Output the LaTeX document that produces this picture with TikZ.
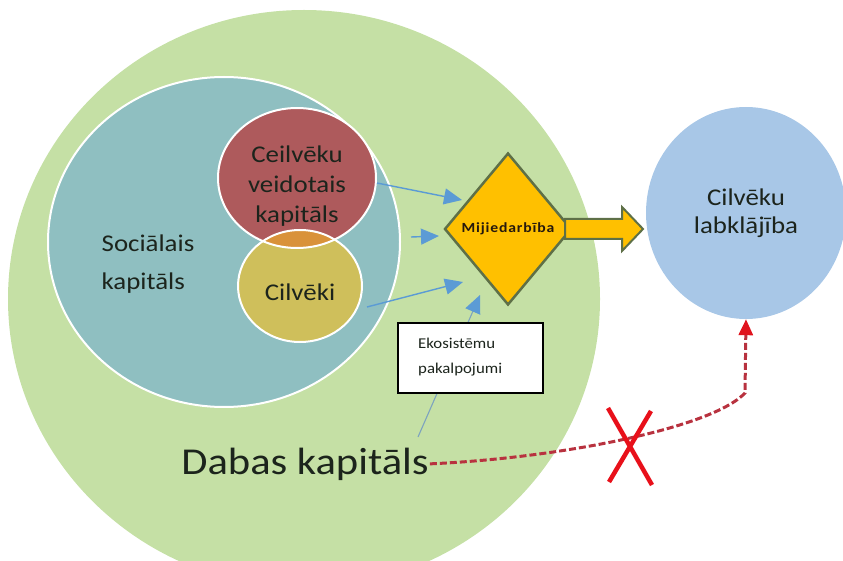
\documentclass[tikz,border=0pt]{standalone}
\usepackage{fontspec}
\setmainfont{Carlito}[FakeStretch=1.12]
\usetikzlibrary{arrows.meta,shapes.geometric,calc}
\definecolor{natgreen}{HTML}{C5E0A5}
\definecolor{socteal}{HTML}{8FBFC1}
\definecolor{manred}{HTML}{AE5A5C}
\definecolor{peopleyel}{HTML}{CFBF5B}
\definecolor{overlaporange}{HTML}{D9923A}
\definecolor{diagold}{HTML}{FFC000}
\definecolor{diaedge}{HTML}{5E7047}
\definecolor{wellblue}{HTML}{A8C7E7}
\definecolor{arrowblue}{HTML}{5B9BD5}
\definecolor{thinblue}{HTML}{7DA3BF}
\definecolor{dashred}{HTML}{B8323F}
\definecolor{tipred}{HTML}{E0141E}
\definecolor{crossred}{HTML}{E8101A}
\definecolor{txtdark}{HTML}{1C241C}
\tikzset{
  blob/.style={ellipse, inner sep=0pt},
  whiteline/.style={draw=white, line width=2pt},
  lbl/.style={text=txtdark, align=center, inner sep=1pt},
  smallarrow/.style={draw=arrowblue, line width=1.4pt, -{Triangle[length=18pt,width=16pt]}},
  thinarrow/.style={draw=thinblue, line width=1.1pt, -{Triangle[length=18pt,width=16pt,color=arrowblue]}},
  reddash/.style={draw=dashred, line width=3pt, dash pattern=on 7pt off 3pt, -{Triangle[length=16pt,width=14pt,color=tipred]}},
  crossline/.style={draw=crossred, line width=4.5pt},
  ekobox/.style={draw=black, fill=white, line width=1.2pt, minimum width=145pt, minimum height=70pt, inner sep=0pt},
}
\begin{document}
\begin{tikzpicture}[x=1pt,y=-1pt]
\useasboundingbox (0,0) rectangle (843,561);
\clip (0,0) rectangle (843,561);
% natural capital
\node[blob, fill=natgreen, minimum width=592pt, minimum height=578pt] (nat) at (304,299) {};
% social capital
\node[blob, fill=socteal, whiteline, minimum width=352pt, minimum height=330pt] (soc) at (224,242) {};
% man-made capital and people
\node[blob, fill=manred, minimum width=158pt, minimum height=140pt] (made) at (297,178) {};
\node[blob, fill=peopleyel, minimum width=124pt, minimum height=112pt] (people) at (300,286) {};
\begin{scope}
  \clip (297,178) ellipse [x radius=79pt, y radius=70pt];
  \fill[overlaporange] (300,286) ellipse [x radius=62pt, y radius=56pt];
\end{scope}
\draw[whiteline] (297,178) ellipse [x radius=79pt, y radius=70pt];
\draw[whiteline] (300,286) ellipse [x radius=62pt, y radius=56pt];
% well-being
\node[blob, fill=wellblue, minimum width=200pt, minimum height=212pt, lbl,
      font=\fontsize{24}{28}\selectfont] (well) at (746,213) {Cilvēku\\labklājība};
% texts
\node[lbl, align=left, font=\fontsize{24}{38}\selectfont] (soctxt) at (148,264) {Sociālais\\kapitāls};
\node[lbl, font=\fontsize{24}{30}\selectfont] (madetxt) at (297,186) {Ceilvēku\\veidotais\\kapitāls};
\node[lbl, font=\fontsize{24}{28}\selectfont] (peopletxt) at (300,292) {Cilvēki};
\node[lbl, anchor=base, font=\fontsize{38}{44}\selectfont] (dabas) at (305,474) {Dabas kapitāls};
% small arrows
\coordinate (a1s) at (377,183); \coordinate (a1e) at (462,200);
\coordinate (a2s) at (411,237); \coordinate (a2e) at (439,236);
\coordinate (a3s) at (367,307); \coordinate (a3e) at (463,282);
\coordinate (a4s) at (418,437); \coordinate (a4e) at (480,295);
\draw[smallarrow] (a1s) -- (a1e);
\draw[smallarrow] (a2s) -- (a2e);
\draw[smallarrow] (a3s) -- (a3e);
\draw[thinarrow] (a4s) -- (a4e);
% interaction diamond
\node[diamond, draw=diaedge, fill=diagold, line width=2.5pt, minimum width=127pt, minimum height=152pt,
      inner sep=0pt, text=black!80!brown, font=\bfseries\addfontfeatures{LetterSpace=6}\fontsize{14}{16}\selectfont]
      (mij) at (508,229) {Mijiedarbība};
% block arrow to well-being
\filldraw[draw=diaedge, fill=diagold, line width=2pt]
  (565,219) -- (622,219) -- (622,207) -- (643,229) -- (622,251) -- (622,239) -- (565,239) -- cycle;
% ecosystem services box
\node[ekobox] (eko) at (470.5,358) {};
\node[lbl, anchor=west, align=left, font=\fontsize{15}{25}\selectfont] (ekotxt) at (417,357) {Ekosistēmu\\pakalpojumi};
% red dashed link with cross
\coordinate (bend) at (745,393);
\draw[reddash] (dabas.east) .. controls (560,458) and (712,428) .. (bend) -- (well.south);
\coordinate (x1a) at (608,408); \coordinate (x1b) at (652,485);
\coordinate (x2a) at (651,411); \coordinate (x2b) at (609,482);
\draw[crossline] (x1a) -- (x1b);
\draw[crossline] (x2a) -- (x2b);
\end{tikzpicture}
\end{document}
